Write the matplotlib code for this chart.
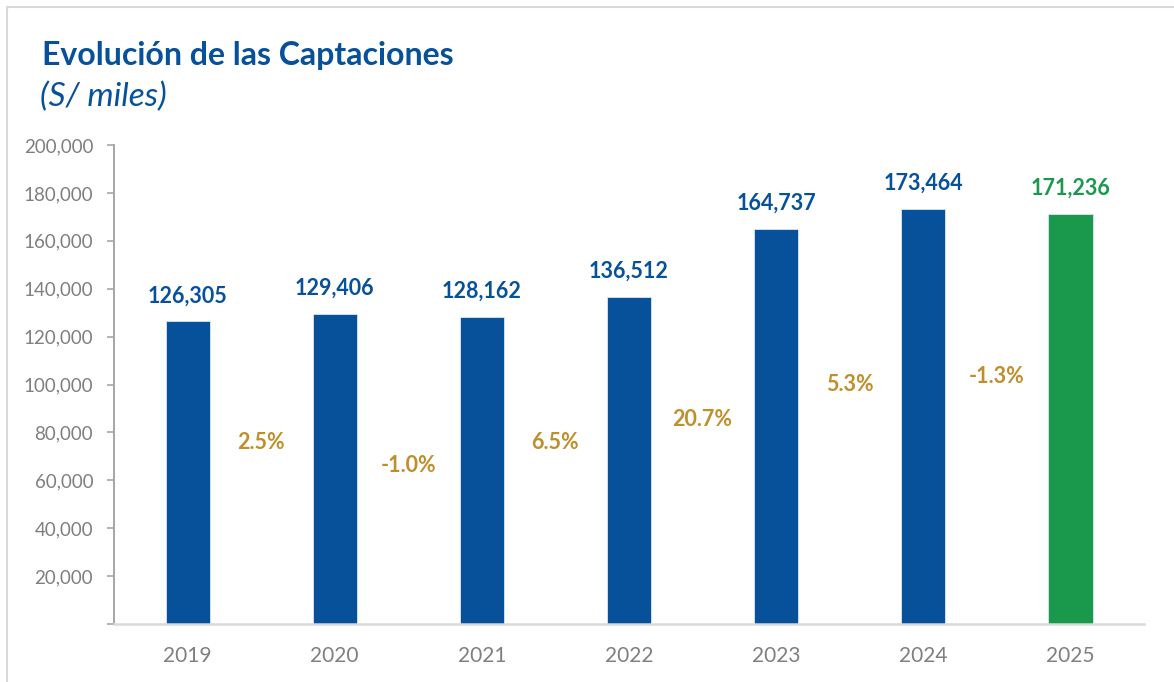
import matplotlib
matplotlib.use("Agg")
import matplotlib.pyplot as plt
from matplotlib.patches import Rectangle
from matplotlib.ticker import FuncFormatter

plt.rcParams["font.family"] = ["Lato", "DejaVu Sans"]

years = ["2019", "2020", "2021", "2022", "2023", "2024", "2025"]
captaciones = [126305, 129406, 128162, 136512, 164737, 173464, 171236]
growth_labels = ["2.5%", "-1.0%", "6.5%", "20.7%", "5.3%", "-1.3%"]
# height of the (hidden) growth series that carries the % labels
growth_y = [75600, 66000, 75600, 85200, 99800, 103500]

BLUE = "#06519A"
GREEN = "#1A994D"
GOLD = "#BF8F2B"
GREY = "#7F7F7F"

fig = plt.figure(figsize=(11.74, 6.82), dpi=100)
ax = fig.add_axes([114 / 1174, 1 - 624 / 682, 1030 / 1174, 479 / 682])

colors = [BLUE] * (len(years) - 1) + [GREEN]
x = range(len(years))
ax.bar(x, captaciones, width=0.30, color=colors, edgecolor="#DCE6F2", linewidth=0.6)

for xi, v, c in zip(x, captaciones, colors):
    ax.annotate(f"{v:,}", (xi, v), xytext=(0, 11), textcoords="offset points",
                ha="center", va="bottom", fontsize=15.5, fontweight="bold", color=c)

for i, (lab, gy) in enumerate(zip(growth_labels, growth_y)):
    ax.text(i + 0.5, gy, lab, ha="center", va="center", fontsize=15.5,
            fontweight="bold", color=GOLD)

ax.set_xlim(-0.5, len(years) - 0.5)
ax.set_ylim(0, 200000)
ax.set_yticks(range(0, 200001, 20000))
ax.yaxis.set_major_formatter(FuncFormatter(lambda v, _: "" if v == 0 else f"{int(v):,}"))
ax.set_xticks(list(x))
ax.set_xticklabels(years)

ax.tick_params(axis="y", colors="#A6A6A6", labelcolor=GREY, labelsize=13.5,
               length=5, width=1.2, pad=10)
ax.tick_params(axis="x", length=0, labelcolor=GREY, labelsize=15, pad=16)

for side in ("top", "right"):
    ax.spines[side].set_visible(False)
ax.spines["left"].set_color("#A6A6A6")
ax.spines["left"].set_linewidth(1.4)
ax.spines["bottom"].set_color("#D9D9D9")
ax.spines["bottom"].set_linewidth(1.8)

fig.text(42 / 1174, 1 - 55 / 682, "Evolución de las Captaciones", ha="left", va="center",
         fontsize=23, fontweight="bold", color=BLUE)
fig.text(40 / 1174, 1 - 97 / 682, "(S/ miles)", ha="left", va="center",
         fontsize=24, fontstyle="italic", color=BLUE)

# light frame around the chart area, as in the source slide
fig.add_artist(Rectangle((7 / 1174, -0.05), 1.2, 1 - 7 / 682 + 0.05, transform=fig.transFigure,
                         fill=False, edgecolor="#D9D9D9", linewidth=1.5))

fig.savefig("out.png", dpi=100)
